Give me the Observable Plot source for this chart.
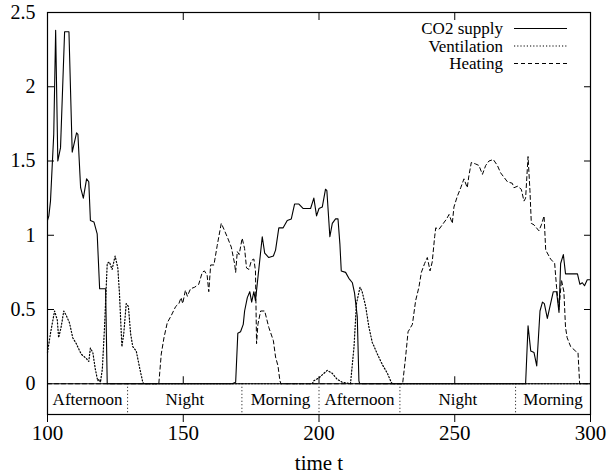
<!DOCTYPE html>
<html>
<head>
<meta charset="utf-8">
<script src="https://cdn.jsdelivr.net/npm/d3@7"></script>
<script src="https://cdn.jsdelivr.net/npm/@observablehq/plot@0.6"></script>
<style>
  body { margin: 0; background: #fff; }
  #chart svg text { font-family: "Liberation Serif" !important; }
</style>
</head>
<body>
<div id="chart"></div>
<script>
// ---- Data ----
const co2T = [100,100.5,101.1,102.3,103,103.8,104.8,106.3,107.9,109.1,110.7,111.2,112.2,113.2,114.4,115.2,115.8,117.1,118.3,119.2,121.4,122,
  168,169.3,170.1,171.1,172.1,172.6,173.6,174.5,175.2,176,176.6,179.1,180,181.5,183.2,184,185.2,186.8,188.3,189.8,191,192.6,194.2,196.9,198.1,199.1,200,201.2,202.4,202.9,204,204.9,206.1,207,207.7,208.2,209.8,211,212.3,213.1,214.1,214.7,215,
  276.1,277,278,279.2,280.2,281.4,282.3,283,284.1,285.3,286.3,287.5,288.4,289,290,290.8,295.2,296.1,297,297.8,298.8,300];
const co2V = [1.1,1.13,1.23,1.68,2.38,1.5,1.59,2.37,2.37,1.56,1.69,1.68,1.32,1.25,1.38,1.36,1.1,1.09,1.01,0.64,0.64,0,
  0,0.01,0.34,0.35,0.40,0.49,0.58,0.62,0.55,0.62,0.56,0.99,0.88,0.85,0.86,0.90,1.05,1.05,1.10,1.11,1.21,1.21,1.18,1.18,1.25,1.13,1.18,1.19,1.31,1.30,0.99,1.08,1.11,1.11,0.94,0.76,0.75,0.71,0.68,0.61,0.45,0.02,0,
  0,0.39,0.22,0.21,0.12,0.49,0.55,0.54,0.44,0.54,0.62,0.62,0.48,0.81,0.87,0.74,0.74,0.67,0.68,0.66,0.70,0.70];

const ventT = [100,101.1,102.6,103.6,104.1,105,106,106.9,108.1,109.3,110.6,112.4,114.3,115.2,115.8,116.7,117.6,118.5,119,119.5,120.2,121,122,122.8,123.8,124.9,125.9,126.5,127.4,128.1,129,129.8,130.6,131.4,132.7,133.9,135.1,135.5,
  197.5,198.1,200,201.2,203,204.9,206.7,208.6,211.6,212.9,213.8,215.1,215.9,217.2,218.4,219.6,221.5,223.3,225.2,226.6,227,300];
const ventV = [0.21,0.34,0.49,0.43,0.31,0.38,0.49,0.46,0.41,0.31,0.27,0.20,0.17,0.15,0.24,0.21,0.10,0.02,0.03,0.01,0.10,0.38,0.81,0.82,0.77,0.86,0.78,0.61,0.25,0.34,0.54,0.52,0.34,0.25,0.22,0.11,0.01,0,
  0,0.02,0.04,0.06,0.09,0.07,0.03,0.01,0,0.25,0.54,0.65,0.62,0.52,0.38,0.28,0.20,0.13,0.07,0.01,0,0];

const heatT = [100,141,141.9,142.9,144.1,145.6,147.2,148.4,149.2,149.8,150.8,151.5,152.7,154.2,155.7,157,157.8,158.8,159.4,160.1,161.3,162.5,164,165,166.4,167.7,168.9,169.3,169.9,170.6,171.7,172.6,173.3,174.2,175.1,176,176.6,177,177.5,178.5,180,181.5,183.2,184,184.9,185.6,186,
  230.8,231.9,232.8,234.4,235.6,236.8,237.7,238.9,239.9,240.9,241.7,242.6,243,244.2,245.4,247,247.9,249.1,249.7,250.9,252.2,253.4,254.6,255.2,256.1,257.7,258.9,260.2,261.4,262.6,264.2,265.7,266.9,269.4,271.2,271.8,273.1,274.5,275.5,276.1,277,277.7,278.2,279.2,281,281.9,282.9,283.5,285.3,286.8,287.5,288.4,289.3,290.2,290.8,291.4,292.7,294.5,295.4,296,300];
const heatV = [0,0,0.20,0.31,0.41,0.46,0.52,0.54,0.58,0.54,0.63,0.59,0.64,0.65,0.67,0.75,0.76,0.73,0.62,0.80,0.80,0.93,1.08,1.04,0.98,0.92,0.81,0.75,0.89,0.87,0.98,0.91,0.78,0.77,0.83,0.84,0.76,0.27,0.40,0.49,0.49,0.38,0.29,0.18,0.12,0.02,0,
  0,0.18,0.35,0.40,0.56,0.65,0.75,0.81,0.85,0.76,0.82,0.99,1.05,1.04,1.07,1.11,1.14,1.08,1.19,1.26,1.32,1.38,1.32,1.40,1.49,1.48,1.47,1.41,1.47,1.50,1.51,1.47,1.42,1.36,1.35,1.32,1.33,1.31,1.23,1.25,1.53,1.30,1.08,1.07,1.03,1.07,1.13,0.90,0.84,0.81,0.65,0.50,0.70,0.62,0.38,0.31,0.25,0.22,0.21,0,0];

const periodBounds = [100, 129.5, 171.6, 200, 229.8, 272.4, 300];
const periodLabels = ["Afternoon", "Night", "Morning", "Afternoon", "Night", "Morning"];

const xTicks = [100, 150, 200, 250, 300];
const yTicks = [0, 0.5, 1, 1.5, 2, 2.5];
const yInnerTicks = [0.5, 1, 1.5, 2];

const seriesNames = ["CO2 supply", "Ventilation", "Heating"];

// ---- Build tables ----
const zip = (T, V) => T.map((t, i) => ({t, v: V[i]}));
const co2 = zip(co2T, co2V);
const vent = zip(ventT, ventV);
const heat = zip(heatT, heatV);
const periods = periodLabels.map((label, i) => ({label, mid: (periodBounds[i] + periodBounds[i + 1]) / 2}));
const separators = periodBounds.slice(1, -1);

const W = 607, H = 474, mL = 47, mR = 17, mT = 12, mB = 60;
const yDomain = [-0.207, 2.5];
const unitPerPx = (yDomain[1] - yDomain[0]) / (H - mT - mB);

const font = "Liberation Serif";
const dash = {co2: null, vent: "1.2,2", heat: "4,3"};
const fmt = d => String(d);

const chart = Plot.plot({
  width: W, height: H,
  marginLeft: mL, marginRight: mR, marginTop: mT, marginBottom: mB,
  style: {fontFamily: font, fontSize: "17px", background: "white", color: "#000"},
  x: {domain: [100, 300]},
  y: {domain: yDomain},
  marks: [
    Plot.frame({stroke: "#000", strokeWidth: 1.2}),
    Plot.ruleY([0], {stroke: "#000", strokeWidth: 1.2}),
    Plot.ruleX(separators, {y1: 0, y2: yDomain[0], stroke: "#000", strokeDasharray: "1,2.5"}),
    Plot.text(periods, {x: "mid", y: (yDomain[0]) / 2, text: "label", fontSize: 17, fill: "#000"}),
    Plot.line(vent, {x: "t", y: "v", stroke: "#000", strokeWidth: 1.2, strokeDasharray: dash.vent}),
    Plot.line(heat, {x: "t", y: "v", stroke: "#000", strokeWidth: 1, strokeDasharray: dash.heat}),
    Plot.line(co2, {x: "t", y: "v", stroke: "#000", strokeWidth: 1.1}),
    // x tick labels
    Plot.axisX(xTicks, {anchor: "bottom", tickSize: 0, tickPadding: 11, fontSize: 21, tickFormat: fmt, label: null}),
    // outward ticks below frame
    Plot.axisX(xTicks, {anchor: "bottom", tickSize: 8, tickFormat: () => "", label: null}),
    // inward ticks at top
    Plot.axisX(xTicks, {anchor: "top", tickSize: 7, dy: 7, tickFormat: () => "", label: null}),
    // inward ticks from the zero line
    Plot.ruleX(xTicks, {y1: 0, y2: 7 * unitPerPx, stroke: "#000"}),
    // y tick labels
    Plot.axisY(yTicks, {anchor: "left", tickSize: 0, tickPadding: 12, fontSize: 20, tickFormat: fmt, label: null}),
    Plot.axisY(yInnerTicks, {anchor: "left", tickSize: 7, dx: 7, tickFormat: () => "", label: null}),
    Plot.axisY(yInnerTicks, {anchor: "right", tickSize: 7, dx: -7, tickFormat: () => "", label: null}),
    Plot.text(["time t"], {frameAnchor: "bottom", lineAnchor: "middle", dy: 49, fontSize: 21, fill: "#000"})
  ]
});

document.getElementById("chart").appendChild(chart);

// ---- Legend (top right, inside frame), drawn into the same SVG ----
const svg = d3.select(chart);
const legStyles = [dash.co2, dash.vent, dash.heat];
const lg = svg.append("g").attr("class", "legend");
seriesNames.forEach((name, i) => {
  const yLine = 28.5 + i * 17.5;
  lg.append("text")
    .attr("x", 503).attr("y", yLine + 5.5)
    .attr("text-anchor", "end")
    .attr("font-size", 17)
    .attr("fill", "#000")
    .text(name);
  lg.append("line")
    .attr("x1", 514).attr("x2", 567)
    .attr("y1", yLine).attr("y2", yLine)
    .attr("stroke", "#000").attr("stroke-width", i === 1 ? 1.2 : 1)
    .attr("stroke-dasharray", legStyles[i]);
});

// make sure every text uses the serif face
svg.attr("font-family", font);
svg.selectAll("g").attr("font-family", font);
svg.selectAll("text").attr("font-family", font);
</script>
</body>
</html>
